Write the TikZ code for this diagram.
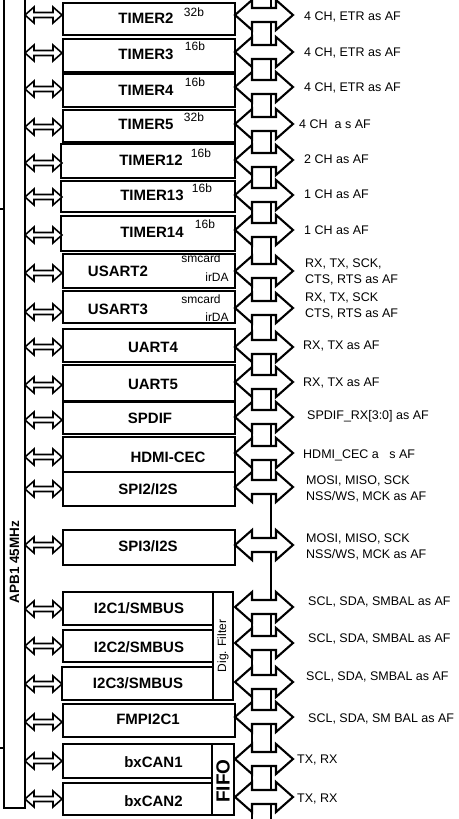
\documentclass[tikz,border=0pt]{standalone}
\usepackage{fontspec}
\setmainfont{Liberation Sans}
\usetikzlibrary{fit}
\tikzset{
  box/.style={draw, line width=1.8pt, inner sep=0pt},
  arr/.style={draw, line width=1.6pt, fill=white, line join=miter},
  rarr/.style={draw, line width=2.1pt, fill=white, line join=miter},
  bus/.style={line width=1.8pt},
  bl/.style={font=\bfseries\fontsize{15}{15}\selectfont, inner sep=0pt},
  rl/.style={font=\fontsize{12.5}{15.5}\selectfont, inner sep=0pt, anchor=west, align=left},
  sm/.style={font=\fontsize{12}{12}\selectfont, inner sep=0pt},
}
\newcommand\blk[5]{\node[box, fit={(#2,#3) (#4,#5)}] (#1) {};}
\newcommand\LA[1]{\draw[arr] (25,#1) -- (34,#1-8) -- (34,#1-2.5) -- (53,#1-2.5) -- (53,#1-8) -- (62,#1) -- (53,#1+8) -- (53,#1+2.5) -- (34,#1+2.5) -- (34,#1+8) -- cycle;}
\newcommand\RA[1]{\draw[rarr] (235,#1) -- (252,#1-15) -- (252,#1-7) -- (276,#1-7) -- (276,#1-15) -- (293,#1) -- (276,#1+15) -- (276,#1+7) -- (252,#1+7) -- (252,#1+15) -- cycle;}
\begin{document}
\begin{tikzpicture}[x=1pt,y=-1pt]
\path[use as bounding box, fill=white] (0,0) rectangle (458,819);
\clip (0,0) rectangle (458,819);
% APB1 bar
\draw[bus] (4,-5) -- (4,808) -- (25,808) -- (25,-5);
\node[rotate=90, font=\bfseries\fontsize{13.5}{14}\selectfont, inner sep=0pt] (apb) at (14.5,562) {APB1 45MHz};
\draw[line width=1.4pt] (0,209) -- (5,209);
\draw[line width=1.4pt] (0,748) -- (5,748);
% right bus lines
\draw[bus] (252,0) -- (252,487);
\draw[bus] (252,607) -- (252,819);
\draw[bus] (271,0) -- (271,819);
% blocks
\blk{t2}{63}{3}{235}{35}
\blk{t3}{63}{39}{235}{72}
\blk{t4}{63}{74}{235}{107}
\blk{t5}{63}{110}{235}{142}
\blk{t12}{61}{144}{235}{178}
\blk{t13}{61}{181}{235}{212}
\blk{t14}{61}{216}{235}{251}
\blk{us2}{63}{254}{235}{288}
\blk{us3}{63}{291}{235}{323}
\blk{ua4}{63}{329}{235}{362}
\blk{ua5}{63}{365}{235}{401}
\blk{spd}{63}{402}{235}{434}
\blk{hdmi}{63}{437}{235}{472}
\blk{spi2}{63}{472}{235}{506}
\blk{spi3}{63}{530}{235}{565}
\blk{i2c1}{63}{592}{213}{625}
\blk{i2c2}{63}{630}{213}{662}
\blk{i2c3}{62}{667}{213}{700}
\blk{dig}{213}{592}{233}{700}
\blk{fmp}{63}{704}{235}{737}
\blk{can1}{63}{744}{212}{778}
\blk{can2}{63}{783}{212}{815}
\blk{fifo}{212}{744}{234}{815}
% block labels
\node[bl] (lt2) at (146,18) {TIMER2};
\node[bl] (lt3) at (146,54) {TIMER3};
\node[bl] (lt4) at (146,90) {TIMER4};
\node[bl] (lt5) at (146,124) {TIMER5};
\node[bl] (lt12) at (151,160) {TIMER12};
\node[bl] (lt13) at (152,195) {TIMER13};
\node[bl] (lt14) at (152,232) {TIMER14};
\node[bl] (lus2) at (118,271) {USART2};
\node[bl] (lus3) at (118,309) {USART3};
\node[bl] (lua4) at (153,347) {UART4};
\node[bl] (lua5) at (153,384) {UART5};
\node[bl] (lspd) at (150,418) {SPDIF};
\node[bl] (lhdmi) at (168,457) {HDMI-CEC};
\node[bl] (lspi2) at (148,489) {SPI2/I2S};
\node[bl] (lspi3) at (148,546) {SPI3/I2S};
\node[bl] (li2c1) at (139,608) {I2C1/SMBUS};
\node[bl] (li2c2) at (139,647) {I2C2/SMBUS};
\node[bl] (li2c3) at (138,683) {I2C3/SMBUS};
\node[bl] (lfmp) at (148,719) {FMPI2C1};
\node[bl] (lcan1) at (153.5,762) {bxCAN1};
\node[bl] (lcan2) at (153.5,801) {bxCAN2};
\node[sm] (b2) at (194,12) {32b};
\node[sm] (b3) at (195,46) {16b};
\node[sm] (b4) at (195,82) {16b};
\node[sm] (b5) at (194,117) {32b};
\node[sm] (b12) at (201,153) {16b};
\node[sm] (b13) at (202,188) {16b};
\node[sm] (b14) at (205,224) {16b};
\node[sm] (sc2) at (201,258) {smcard};
\node[sm] (ir2) at (217,277) {irDA};
\node[sm] (sc3) at (201,299) {smcard};
\node[sm] (ir3) at (217,317) {irDA};
\node[sm, rotate=90] (ldig) at (223,646) {Dig. Filter};
\node[rotate=90, font=\bfseries\fontsize{19}{19}\selectfont, inner sep=0pt] (lfifo) at (223,781) {FIFO};
% left arrows
\foreach \y in {15,53,89,127,163,197,235,273,312,347,385,420,457,489,545,609,646,684,722,761,799} {\LA{\y}}
% right arrows
\foreach \y in {15,52,87,124,160,195,230,271,308,347,382,417,453,487,545,607,643,682,717,759,797} {\RA{\y}}
% right labels
\node[rl] (r2) at (304,17) {4 CH, ETR as AF};
\node[rl] (r3) at (304,53) {4 CH, ETR as AF};
\node[rl] (r4) at (304,88) {4 CH, ETR as AF};
\node[rl] (r5) at (299,124) {4 CH\ \ a s AF};
\node[rl] (r12) at (304,159) {2 CH as AF};
\node[rl] (r13) at (304,194) {1 CH as AF};
\node[rl] (r14) at (304,230) {1 CH as AF};
\node[rl] (rus2) at (305,272) {RX, TX, SCK,\\CTS, RTS as AF};
\node[rl] (rus3) at (305,306) {RX, TX, SCK\\CTS, RTS as AF};
\node[rl] (rua4) at (303,346) {RX, TX as AF};
\node[rl] (rua5) at (303,383) {RX, TX as AF};
\node[rl] (rspd) at (307,416) {SPDIF\_RX[3:0] as AF};
\node[rl] (rhdmi) at (303,455) {HDMI\_CEC a\ \ \ s AF};
\node[rl] (rspi2) at (306,489) {MOSI, MISO, SCK\\NSS/WS, MCK as AF};
\node[rl] (rspi3) at (306,547) {MOSI, MISO, SCK\\NSS/WS, MCK as AF};
\node[rl] (ri1) at (308,602) {SCL, SDA, SMBAL as AF};
\node[rl] (ri2) at (308,639) {SCL, SDA, SMBAL as AF};
\node[rl] (ri3) at (306,677) {SCL, SDA, SMBAL as AF};
\node[rl] (rfmp) at (308,719) {SCL, SDA, SM BAL as AF};
\node[rl] (rc1) at (297,760) {TX, RX};
\node[rl] (rc2) at (297,799) {TX, RX};
\end{tikzpicture}
\end{document}
